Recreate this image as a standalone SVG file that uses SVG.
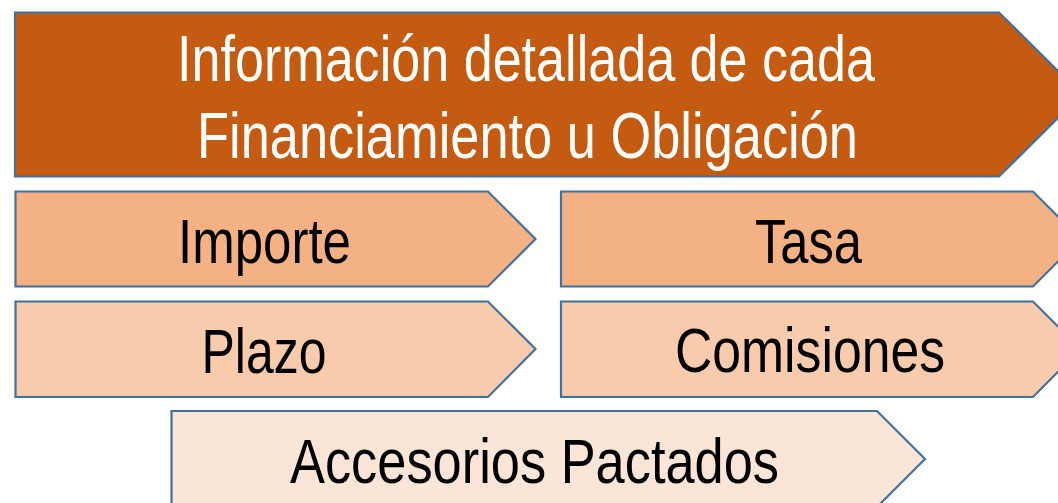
<svg xmlns="http://www.w3.org/2000/svg" width="1058" height="503" viewBox="0 0 1058 503">
<style>
.shape{stroke:#41719C;stroke-width:2.2;stroke-linejoin:miter}
.t{font-family:"Liberation Sans",Arial,sans-serif;font-size:63px;fill:#000}
.tw{font-family:"Liberation Sans",Arial,sans-serif;font-size:65px;fill:#fff}
</style>
<rect width="1058" height="503" fill="#fff"/>
<g id="header">
<polygon class="shape" fill="#C55A11" points="15,12.5 999,12.5 1081.5,94.5 999,176.5 15,176.5"/>
<text class="tw" x="177" y="81" textLength="698" lengthAdjust="spacingAndGlyphs">Información detallada de cada</text>
<text class="tw" x="197" y="158" textLength="661" lengthAdjust="spacingAndGlyphs">Financiamiento u Obligación</text>
</g>
<g id="importe">
<polygon class="shape" fill="#F4B183" points="15.5,191.5 488,191.5 535.5,239 488,286.5 15.5,286.5"/>
<text class="t" x="178" y="263" textLength="173" lengthAdjust="spacingAndGlyphs">Importe</text>
</g>
<g id="tasa">
<polygon class="shape" fill="#F4B183" points="561,191.5 1033,191.5 1080.5,239 1033,286.5 561,286.5"/>
<text class="t" x="755" y="263" textLength="107" lengthAdjust="spacingAndGlyphs">Tasa</text>
</g>
<g id="plazo">
<polygon class="shape" fill="#F8CBAD" points="15.5,301.5 488,301.5 535.5,349 488,397 15.5,397"/>
<text class="t" x="201.5" y="373" textLength="125" lengthAdjust="spacingAndGlyphs">Plazo</text>
</g>
<g id="comisiones">
<polygon class="shape" fill="#F8CBAD" points="561,301.5 1033,301.5 1080.5,349 1033,397 561,397"/>
<text class="t" x="675" y="372" textLength="270" lengthAdjust="spacingAndGlyphs">Comisiones</text>
</g>
<g id="accesorios">
<polygon class="shape" fill="#FBE5D6" points="171.5,411 877,411 925,459 877,507 171.5,507"/>
<text class="t" x="290" y="483" textLength="489" lengthAdjust="spacingAndGlyphs">Accesorios Pactados</text>
</g>
</svg>
